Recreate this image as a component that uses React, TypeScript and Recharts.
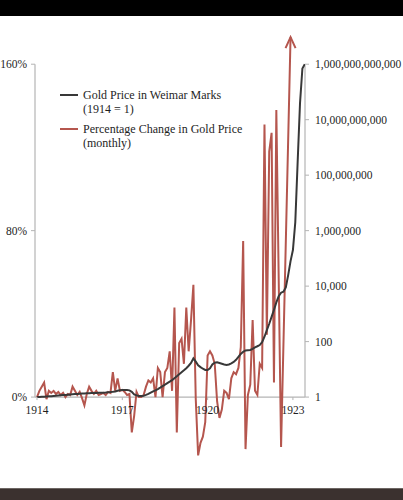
import React from 'react';
import { Legend, Line, LineChart, ReferenceLine, XAxis, YAxis } from 'recharts';

// x is months since Jan 1914
const yearTicks = [0, 36, 72, 108];
const yearLabels = ['1914', '1917', '1920', '1923'];
const pctTicks = [0, 80, 160];
const goldTicks = [1, 100, 1e4, 1e6, 1e8, 1e10, 1e12];

// gold price in marks, 1914 = 1, one value per month
const goldPrice = [
  1.0, 1.0, 1.02, 1.03, 1.05, 1.07, 1.08, 1.1, 1.12, 1.14,
  1.16, 1.18, 1.2, 1.22, 1.24, 1.26, 1.28, 1.3, 1.32, 1.34,
  1.36, 1.37, 1.38, 1.39, 1.4, 1.41, 1.42, 1.43, 1.44, 1.46,
  1.5, 1.52, 1.55, 1.6, 1.68, 1.75, 1.8, 1.8, 1.8, 1.75,
  1.55, 1.25, 1.15, 1.1, 1.1, 1.12, 1.2, 1.3, 1.45, 1.6,
  1.75, 1.95, 2.2, 2.5, 2.8, 3.2, 3.6, 4.1, 4.8, 5.6,
  6.6, 7.8, 9.2, 11, 13.5, 17, 25, 19, 14, 12,
  10.5, 9.5, 9.5, 11, 15, 17.5, 18, 17, 16, 15,
  14.5, 15, 16.5, 18.5, 22, 28, 36, 43, 48, 49,
  50, 55, 62, 68, 75, 95, 150, 260, 440, 780,
  1400, 2600, 4300, 5800, 6300, 9000, 25000, 80000, 2e5, 2e6,
  3e8, 4e10, 7e11, 1e12,
];

// monthly % change in gold price
const pctChange = [
  0, 3, 5, 7, -1, 3, 2, 3, 1.5, 2.5,
  1, 2, 0, 1.5, 1, 5, 3, 1, 2.5, -0.5,
  -4, 1.5, 5, 3, 1.5, 3, 1, 1.5, 2, 1,
  2.5, 2, 12, 3, 9, 3, 3.5, 2.5, 1, 1.5,
  -17, -9, 2.5, 0, 0, 1, 5, 8, 7, 9,
  0, 14, 12, 0, 12, 14, 22, 3, 43, -17,
  26, 28, 16, 43, 22, 37, 54, -1, -28, -22,
  -19, -12, 20, 22, 20, 16, -2, -10, -6, 3,
  2, -1, 9, 12, 11, 14, 24, 75, -25, 1,
  6, 37, 3, 1, 16, 14, 131, 30, 118, 127,
  7, 138,
];
const tailMonths = [103, 107];
const tailPct = [-24, 173];

const RED = '#b5564e';
const DARK = '#383838';
const AXIS = '#b4b4b4';
const TEXT = '#1e1e1e';
const FONT = "'Liberation Serif', 'DejaVu Serif', serif";

const X_MIN = -0.85;
const X_MAX = 113.1;
const PCT_MIN = -30;
const PCT_MAX = 175;
const LOG_MIN = Math.pow(10, -2.25);
const LOG_MAX = Math.pow(10, 13.125);

const PLOT_TOP = 33;
const PLOT_BOTTOM = 459.5;
const ZERO_LIFT = ((PLOT_BOTTOM - PLOT_TOP) * -PCT_MIN) / (PCT_MAX - PCT_MIN);

const data = goldPrice.map((g, i) => {
  const t = tailMonths.indexOf(i);
  const pct = i < pctChange.length ? pctChange[i] : t >= 0 ? tailPct[t] : null;
  return { m: i, gold: g, pct };
});

const lastRedMonth = tailMonths[tailMonths.length - 1];

const YearTick = (props: any) => {
  const { x, y, payload } = props;
  const zeroY = y - ZERO_LIFT;
  const label = yearLabels[yearTicks.indexOf(payload.value)];
  return (
    <g>
      <line x1={x} x2={x} y1={zeroY} y2={zeroY + 3} stroke={AXIS} />
      <text x={x} y={zeroY + 17} textAnchor="middle" fontSize={11.5} fill={TEXT} fontFamily={FONT}>
        {label}
      </text>
    </g>
  );
};

const ArrowHead = (props: any) => {
  const { cx, cy, payload, index } = props;
  if (!payload || payload.m !== lastRedMonth || cy == null) return <g key={`d-${index}`} />;
  return (
    <path
      key={`d-${index}`}
      d={`M${cx - 5},${cy + 11} L${cx},${cy} L${cx + 5},${cy + 11}`}
      fill="none"
      stroke={RED}
      strokeWidth={2}
    />
  );
};

const legendItems = [
  { color: DARK, lines: ['Gold Price in Weimar Marks', '(1914 = 1)'] },
  { color: RED, lines: ['Percentage Change in Gold Price', '(monthly)'] },
];

const renderLegend = () => (
  <div style={{ fontFamily: FONT, fontSize: 12, color: TEXT, lineHeight: '14px' }}>
    {legendItems.map((item, i) => (
      <div key={i} style={{ display: 'flex', alignItems: 'flex-start', marginBottom: 6 }}>
        <div style={{ width: 18, height: 2, background: item.color, marginTop: 6, marginRight: 5 }} />
        <div>
          {item.lines.map((l, j) => (
            <div key={j}>{l}</div>
          ))}
        </div>
      </div>
    ))}
  </div>
);

const App: React.FC = () => {
  return (
    <div style={{ position: 'absolute', left: 0, top: 0, width: 403, height: 500, background: '#fff', overflow: 'hidden' }}>
      <div style={{ position: 'absolute', left: 0, top: 0, width: 403, height: 16, background: '#000' }} />
      <LineChart
        width={403}
        height={500}
        data={data}
        margin={{ top: PLOT_TOP, right: 0, bottom: 500 - PLOT_BOTTOM - 30, left: 5 }}
      >
        <XAxis
          dataKey="m"
          type="number"
          domain={[X_MIN, X_MAX]}
          allowDataOverflow
          ticks={yearTicks}
          interval={0}
          tick={<YearTick />}
          axisLine={false}
          tickLine={false}
          tickSize={0}
          tickMargin={0}
          height={30}
        />
        <YAxis
          yAxisId="left"
          type="number"
          domain={[PCT_MIN, PCT_MAX]}
          allowDataOverflow
          ticks={pctTicks}
          interval={0}
          tickFormatter={(v: number) => `${v}%`}
          axisLine={false}
          tickLine={{ stroke: AXIS }}
          tickSize={4}
          tickMargin={4}
          width={30}
          tick={{ fontSize: 11.5, fill: TEXT, fontFamily: FONT }}
        />
        <YAxis
          yAxisId="right"
          orientation="right"
          type="number"
          scale="log"
          domain={[LOG_MIN, LOG_MAX]}
          allowDataOverflow
          ticks={goldTicks}
          interval={0}
          tickFormatter={(v: number) => v.toLocaleString('en-US')}
          axisLine={false}
          tickLine={{ stroke: AXIS }}
          tickSize={4}
          tickMargin={6}
          width={98}
          tick={{ fontSize: 11.5, fill: TEXT, fontFamily: FONT, textAnchor: 'start' }}
        />
        <ReferenceLine yAxisId="left" y={0} stroke={AXIS} strokeWidth={1.2} />
        <ReferenceLine
          yAxisId="left"
          segment={[{ x: X_MIN, y: 0 }, { x: X_MIN, y: 160 }]}
          stroke={AXIS}
          strokeWidth={1.2}
        />
        <ReferenceLine
          yAxisId="right"
          segment={[{ x: X_MAX, y: 1 }, { x: X_MAX, y: 1e12 }]}
          stroke={AXIS}
          strokeWidth={1.2}
        />
        <Legend
          layout="horizontal"
          verticalAlign="middle"
          align="center"
          content={renderLegend}
          wrapperStyle={{ position: 'absolute', left: 60, top: 88, width: 240 }}
        />
        <Line
          yAxisId="left"
          dataKey="pct"
          type="linear"
          stroke={RED}
          strokeWidth={2}
          connectNulls
          dot={(p: any) => <ArrowHead {...p} />}
          activeDot={false}
          isAnimationActive={false}
        />
        <Line
          yAxisId="right"
          dataKey="gold"
          type="linear"
          stroke={DARK}
          strokeWidth={2}
          dot={false}
          activeDot={false}
          isAnimationActive={false}
        />
      </LineChart>
      <div style={{ position: 'absolute', left: 0, top: 488, width: 403, height: 12, background: '#3b312f', borderTop: '1px solid #6d6663' }} />
    </div>
  );
};

export default App;
